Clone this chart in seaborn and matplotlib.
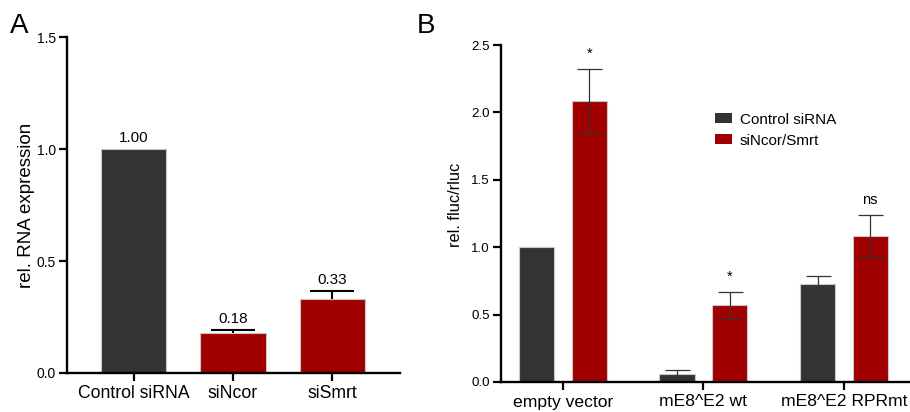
import matplotlib
matplotlib.use("Agg")
import matplotlib.pyplot as plt
import seaborn as sns
import pandas as pd
import numpy as np

# ---- Panel A data ----
a_categories = ["Control siRNA", "siNcor", "siSmrt"]
a_values = [1.00, 0.18, 0.33]
a_errors = [0.0, 0.013, 0.035]
a_labels = ["1.00", "0.18", "0.33"]

# ---- Panel B data ----
b_groups = ["empty vector", "mE8^E2 wt", "mE8^E2 RPRmt"]
b_series = ["Control siRNA", "siNcor/Smrt"]
b_control = [1.00, 0.06, 0.73]
b_control_err = [0.0, 0.03, 0.055]
b_si = [2.085, 0.57, 1.085]
b_si_err = [0.235, 0.10, 0.155]
b_sig = ["*", "*", "ns"]

sns.set_theme(style="ticks")
plt.rcParams["font.family"] = ["Liberation Sans", "DejaVu Sans"]
plt.rcParams["text.color"] = "black"
plt.rcParams["axes.labelcolor"] = "black"
plt.rcParams["xtick.color"] = "black"
plt.rcParams["ytick.color"] = "black"

DARK = "#333333"
RED = "#A00000"
EDGE = "#c8c8c8"

fig = plt.figure(figsize=(9.10, 4.12), dpi=100)
axA = fig.add_axes([67/910, 1-373/412, 333/910, 336/412])
axB = fig.add_axes([501/910, 1-382/412, 409/910, 337/412])

# ---- Panel A ----
dfA = pd.DataFrame({"cat": a_categories, "val": a_values})
sns.barplot(data=dfA, x="cat", y="val", hue="cat", palette=[DARK, RED, RED],
            saturation=1, width=0.66, edgecolor=EDGE, linewidth=0.8,
            legend=False, ax=axA, errorbar=None)
xs = np.arange(len(a_categories))
for x, v, e, lab in zip(xs, a_values, a_errors, a_labels):
    if e > 0:
        _, caps, _ = axA.errorbar(x, v, yerr=[[0], [e]], fmt="none",
                                  ecolor="black", elinewidth=1.5,
                                  capsize=16, capthick=1.5)
        caps[0].set_visible(False)
    axA.text(x, v + e + 0.018, lab, ha="center", va="bottom", fontsize=11)
axA.set_ylim(0, 1.5)
axA.set_xlim(-0.67, 2.68)
axA.set_yticks([0, 0.5, 1.0, 1.5])
axA.set_yticklabels(["0.0", "0.5", "1.0", "1.5"], fontsize=10)
axA.tick_params(axis="x", labelsize=12.7, length=6, width=1.6, pad=3)
axA.tick_params(axis="y", length=6, width=1.6, pad=2)
axA.set_xlabel("")
axA.set_ylabel("rel. RNA expression", fontsize=13.5, labelpad=1.5)
for s in ["top", "right"]:
    axA.spines[s].set_visible(False)
for s in ["left", "bottom"]:
    axA.spines[s].set_linewidth(1.7)
    axA.spines[s].set_color("black")

# ---- Panel B ----
dfB = pd.DataFrame({
    "group": b_groups * 2,
    "series": [b_series[0]] * 3 + [b_series[1]] * 3,
    "val": b_control + b_si,
})
sns.barplot(data=dfB, x="group", y="val", hue="series", palette=[DARK, RED],
            saturation=1, width=0.75, gap=0.333, edgecolor=EDGE,
            linewidth=0.8, ax=axB, errorbar=None)
errs = [b_control_err, b_si_err]
vals = [b_control, b_si]
bar_containers = list(axB.containers)[:2]
for ci, cont in enumerate(bar_containers):
    for j, bar in enumerate(cont):
        v = vals[ci][j]
        e = errs[ci][j]
        cx = bar.get_x() + bar.get_width() / 2
        if e > 0:
            axB.errorbar(cx, v, yerr=e, fmt="none", ecolor="#333333",
                         elinewidth=0.9, capsize=9, capthick=0.9)
        if ci == 1:
            axB.text(cx, v + e + 0.06, b_sig[j], ha="center", va="bottom",
                     fontsize=10.5)
axB.set_ylim(0, 2.5)
axB.set_xlim(-0.44, 2.47)
axB.set_yticks([0, 0.5, 1.0, 1.5, 2.0, 2.5])
axB.set_yticklabels(["0.0", "0.5", "1.0", "1.5", "2.0", "2.5"], fontsize=9.6)
axB.tick_params(axis="x", labelsize=12.6, length=6, width=1.6, pad=3)
axB.tick_params(axis="y", length=6, width=1.6, pad=2)
axB.set_xlabel("")
axB.set_ylabel("rel. fluc/rluc", fontsize=11.8)
axB.yaxis.set_label_coords(-0.092, 0.525)
for s in ["top", "right"]:
    axB.spines[s].set_visible(False)
for s in ["left", "bottom"]:
    axB.spines[s].set_linewidth(1.7)
    axB.spines[s].set_color("black")
leg = axB.legend(loc="upper left", bbox_to_anchor=(0.49, 0.84), frameon=False,
                 fontsize=11, handlelength=1.1, handleheight=0.65,
                 handletextpad=0.5, labelspacing=0.45)
for h in leg.legend_handles:
    h.set_edgecolor("none")

fig.text(10/910, 1-33/412, "A", fontsize=20, ha="left", va="baseline")
fig.text(417/910, 1-33/412, "B", fontsize=20, ha="left", va="baseline")

fig.savefig("out.png", dpi=100)
